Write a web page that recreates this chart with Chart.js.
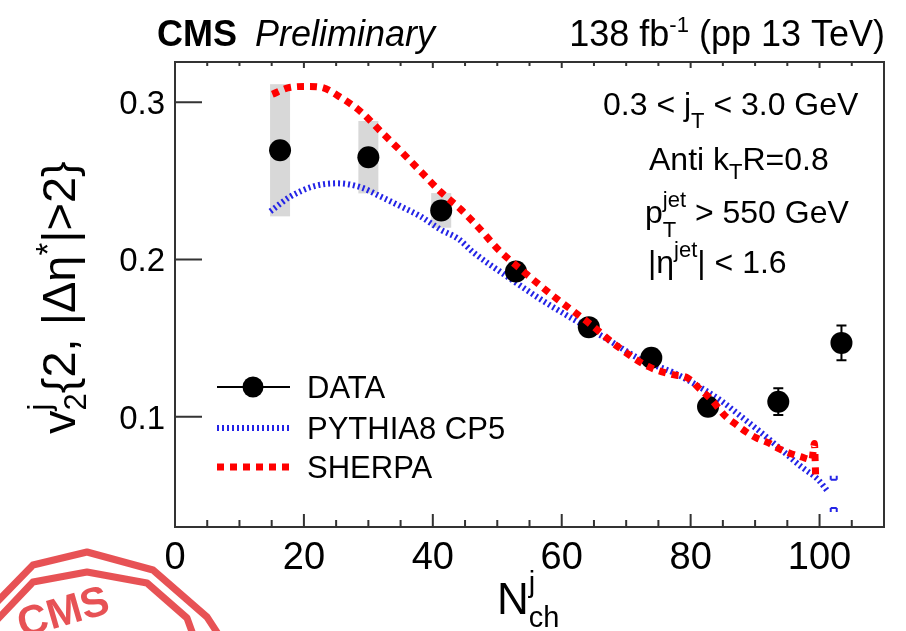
<!DOCTYPE html>
<html>
<head>
<meta charset="utf-8">
<script src="https://cdn.jsdelivr.net/npm/chart.js@4.4.1/dist/chart.umd.min.js"></script>
<style>
  html, body { margin: 0; padding: 0; background: #fff; }
  #wrap { position: relative; width: 906px; height: 631px; }
</style>
</head>
<body>
<div id="wrap"><canvas id="chart" width="906" height="631"></canvas></div>
<script>
// measured points
const nch = [16.3, 30.0, 41.3, 52.9, 64.2, 73.9, 82.7, 93.6, 103.4];
const v2 = [0.2694, 0.265, 0.2312, 0.1924, 0.157, 0.1376, 0.1064, 0.1096, 0.147];
const statErr = [0.003, 0.003, 0.003, 0.003, 0.003, 0.004, 0.005, 0.0085, 0.011];
const sysErr = [0.042, 0.023, 0.011, 0, 0, 0, 0, 0, 0];

// PYTHIA8 CP5 curve
const pythiaX = [14.8, 17.9, 21.5, 25.2, 28.8, 31.9, 35.0, 38.1, 41.2, 44.0, 46.3, 51.6, 56.8, 61.9, 67.2, 72.3, 77.4, 81.6, 84.8, 87.9, 91.0, 94.1, 97.2, 99.8, 101.4];
const pythiaY = [0.2306, 0.240, 0.2465, 0.2484, 0.2459, 0.240, 0.2338, 0.2274, 0.219, 0.213, 0.2045, 0.189, 0.1745, 0.1618, 0.149, 0.1363, 0.128, 0.1185, 0.110, 0.100, 0.0898, 0.079, 0.0682, 0.060, 0.052];
// last PYTHIA bin error (x, y, err)
const pythiaLast = [102.2, 0.051, 0.009];

// SHERPA curve
const sherpaX = [15.1, 17.5, 20.5, 22.6, 25.7, 28.8, 31.9, 35.0, 38.1, 41.2, 44.3, 47.4, 50.0, 53.7, 58.8, 64.1, 68.7, 73.4, 77.0, 79.6, 81.6, 83.2, 85.5, 87.1, 88.6, 90.2, 92.1, 93.6, 95.3, 97.2, 98.8, 99.2, 99.4];
const sherpaY = [0.305, 0.309, 0.310, 0.3095, 0.303, 0.294, 0.2815, 0.269, 0.256, 0.243, 0.232, 0.219, 0.207, 0.1936, 0.1764, 0.160, 0.1446, 0.132, 0.127, 0.1245, 0.117, 0.111, 0.100, 0.095, 0.0905, 0.0866, 0.0834, 0.080, 0.077, 0.0745, 0.0728, 0.083, 0.062];

const xTicks = [0, 20, 40, 60, 80, 100];
const yTicks = [0.1, 0.2, 0.3];

const FONT = '"Liberation Sans", Arial, Helvetica, sans-serif';
const BLUE = '#2424e6';
const RED = '#ff0000';

function fnt(size, style) {
  return (style || '') + ' ' + size + 'px ' + FONT;
}

// draws text pieces with sub/superscripts, returns width
function drawRich(ctx, x, y, parts, dry) {
  let cx = x;
  for (const p of parts) {
    const list = p.stack ? p.stack : [p];
    let w = 0;
    for (const q of list) {
      ctx.font = fnt(q.s, q.st);
      if (!dry) ctx.fillText(q.t, cx, y + (q.dy || 0));
      w = Math.max(w, ctx.measureText(q.t).width);
    }
    cx += w;
  }
  return cx - x;
}

const decorations = {
  id: 'decorations',
  beforeDatasetsDraw(chart) {
    const { ctx } = chart;
    const xs = chart.scales.x, ys = chart.scales.y;
    ctx.save();
    // systematic boxes
    ctx.fillStyle = '#d8d8d8';
    nch.forEach((n, i) => {
      if (!sysErr[i]) return;
      const px = xs.getPixelForValue(n);
      const top = ys.getPixelForValue(v2[i] + sysErr[i]);
      const bot = ys.getPixelForValue(v2[i] - sysErr[i]);
      ctx.fillRect(px - 10, top, 20, bot - top);
    });
    // stat error bars
    ctx.strokeStyle = '#000';
    ctx.lineWidth = 2;
    nch.forEach((n, i) => {
      const px = xs.getPixelForValue(n);
      const top = ys.getPixelForValue(v2[i] + statErr[i]);
      const bot = ys.getPixelForValue(v2[i] - statErr[i]);
      ctx.beginPath();
      ctx.moveTo(px, top); ctx.lineTo(px, bot);
      ctx.moveTo(px - 5, top); ctx.lineTo(px + 5, top);
      ctx.moveTo(px - 5, bot); ctx.lineTo(px + 5, bot);
      ctx.stroke();
    });
    // pythia last bin caps
    ctx.strokeStyle = BLUE;
    const bx = xs.getPixelForValue(pythiaLast[0]);
    const bt = ys.getPixelForValue(pythiaLast[1] + pythiaLast[2]);
    const bb = ys.getPixelForValue(pythiaLast[1] - pythiaLast[2]);
    ctx.beginPath();
    ctx.moveTo(bx - 3, bt); ctx.lineTo(bx + 3, bt);
    ctx.moveTo(bx - 3, bt - 4); ctx.lineTo(bx - 3, bt);
    ctx.moveTo(bx + 3, bt - 4); ctx.lineTo(bx + 3, bt);
    ctx.moveTo(bx - 3, bb); ctx.lineTo(bx + 3, bb);
    ctx.moveTo(bx - 3, bb + 4); ctx.lineTo(bx - 3, bb);
    ctx.moveTo(bx + 3, bb + 4); ctx.lineTo(bx + 3, bb);
    ctx.stroke();
    ctx.restore();
  },
  afterDraw(chart) {
    const { ctx, chartArea: a } = chart;
    const xs = chart.scales.x, ys = chart.scales.y;
    ctx.save();

    // frame and inward ticks
    ctx.strokeStyle = '#333';
    ctx.lineWidth = 2;
    ctx.strokeRect(a.left, a.top, a.right - a.left, a.bottom - a.top);
    ctx.beginPath();
    for (let v = xs.min; v <= xs.max; v += 5) {
      const px = xs.getPixelForValue(v);
      const major = xTicks.includes(v);
      ctx.moveTo(px, a.bottom); ctx.lineTo(px, a.bottom - (major ? 13 : 7));
      ctx.moveTo(px, a.top); ctx.lineTo(px, a.top + (major ? 6 : 4));
    }
    yTicks.forEach(v => {
      const py = ys.getPixelForValue(v);
      ctx.moveTo(a.left, py); ctx.lineTo(a.left + 27, py);
    });
    ctx.stroke();

    // tick labels
    ctx.fillStyle = '#000';
    ctx.textBaseline = 'alphabetic';
    ctx.font = fnt(38);
    ctx.textAlign = 'center';
    xTicks.forEach(v => ctx.fillText(String(v), xs.getPixelForValue(v), 569));
    ctx.font = fnt(33);
    ctx.textAlign = 'right';
    yTicks.forEach(v => ctx.fillText(v.toFixed(1), a.left - 10, ys.getPixelForValue(v) + 12));
    ctx.textAlign = 'left';

    // header
    ctx.font = fnt(36, 'bold');
    ctx.fillText('CMS', 157, 46);
    ctx.font = fnt(36, 'italic');
    ctx.fillText('Preliminary', 255, 46);
    const lumi = [{ t: '138 fb', s: 36 }, { t: '-1', s: 22, dy: -14 }, { t: ' (pp 13 TeV)', s: 36 }];
    const lw = drawRich(ctx, 0, 0, lumi, true);
    drawRich(ctx, 885 - lw, 46, lumi);

    // axis titles
    ctx.save();
    ctx.translate(75, 434);
    ctx.rotate(-Math.PI / 2);
    drawRich(ctx, 0, 0, [
      { t: 'v', s: 47 },
      { stack: [{ t: 'j', s: 31, dy: -25 }, { t: '2', s: 31, dy: 11 }] },
      { t: '{2, |\u0394\u03b7', s: 47 },
      { t: '*', s: 33, dy: -16 },
      { t: '|>2}', s: 47 }
    ]);
    ctx.restore();
    drawRich(ctx, 497, 614, [
      { t: 'N', s: 44 },
      { stack: [{ t: 'j', s: 29, dy: -22 }, { t: 'ch', s: 29, dy: 13 }] }
    ]);

    // selection text
    drawRich(ctx, 603, 115, [{ t: '0.3 < j', s: 32 }, { t: 'T', s: 22, dy: 13 }, { t: ' < 3.0 GeV', s: 32 }]);
    drawRich(ctx, 649, 170, [{ t: 'Anti k', s: 32 }, { t: 'T', s: 22, dy: 9 }, { t: 'R=0.8', s: 32 }]);
    drawRich(ctx, 645, 223, [{ t: 'p', s: 32 }, { stack: [{ t: 'jet', s: 22, dy: -16 }, { t: 'T', s: 22, dy: 14 }] }, { t: ' > 550 GeV', s: 32 }]);
    drawRich(ctx, 648, 273, [{ t: '|\u03b7', s: 32 }, { t: 'jet', s: 22, dy: -16 }, { t: '| < 1.6', s: 32 }]);

    // legend
    ctx.lineCap = 'butt';
    ctx.strokeStyle = '#000';
    ctx.lineWidth = 2;
    ctx.beginPath(); ctx.moveTo(217, 387); ctx.lineTo(290, 387); ctx.stroke();
    ctx.fillStyle = '#000';
    ctx.beginPath(); ctx.arc(253, 387, 10.5, 0, Math.PI * 2); ctx.fill();
    ctx.strokeStyle = BLUE; ctx.lineWidth = 6; ctx.setLineDash([2, 3]);
    ctx.beginPath(); ctx.moveTo(217, 428); ctx.lineTo(290, 428); ctx.stroke();
    ctx.strokeStyle = RED; ctx.lineWidth = 7; ctx.setLineDash([7, 6]);
    ctx.beginPath(); ctx.moveTo(217, 467); ctx.lineTo(290, 467); ctx.stroke();
    ctx.setLineDash([]);
    ctx.font = fnt(31);
    ctx.fillText('DATA', 307, 398);
    ctx.fillText('PYTHIA8 CP5', 307, 439);
    ctx.fillText('SHERPA', 307, 478);

    // stamp
    ctx.strokeStyle = 'rgba(228,58,62,0.88)';
    ctx.lineWidth = 7;
    ctx.lineJoin = 'round';
    ctx.beginPath();
    ctx.moveTo(-5, 604); ctx.lineTo(33, 565); ctx.lineTo(87, 552); ctx.lineTo(153, 570); ctx.lineTo(207, 617); ctx.lineTo(222, 640);
    ctx.stroke();
    ctx.beginPath();
    ctx.moveTo(-5, 622); ctx.lineTo(33, 582); ctx.lineTo(87, 572); ctx.lineTo(147, 583); ctx.lineTo(187, 618); ctx.lineTo(195, 640);
    ctx.stroke();
    ctx.save();
    ctx.translate(22, 638);
    ctx.rotate(-0.28);
    ctx.fillStyle = 'rgba(228,58,62,0.88)';
    ctx.font = fnt(42, 'bold');
    ctx.fillText('CMS', 0, 0);
    ctx.restore();

    ctx.restore();
  }
};

const pts = (xs, ys) => xs.map((x, i) => ({ x: x, y: ys[i] }));

new Chart(document.getElementById('chart'), {
  type: 'scatter',
  data: {
    datasets: [
      {
        label: 'SHERPA',
        data: pts(sherpaX, sherpaY),
        showLine: true,
        borderColor: RED,
        borderWidth: 7,
        borderDash: [7, 6],
        pointRadius: 0,
        cubicInterpolationMode: 'monotone',
        order: 0
      },
      {
        label: 'DATA',
        data: pts(nch, v2),
        showLine: false,
        pointRadius: 11,
        pointBackgroundColor: '#000',
        pointBorderWidth: 0,
        order: 1
      },
      {
        label: 'PYTHIA8 CP5',
        data: pts(pythiaX, pythiaY),
        showLine: true,
        borderColor: BLUE,
        borderWidth: 6,
        borderDash: [2, 3],
        pointRadius: 0,
        cubicInterpolationMode: 'monotone',
        order: 2
      }
    ]
  },
  options: {
    responsive: false,
    animation: false,
    layout: { padding: { left: 175, right: 22, top: 62, bottom: 104 } },
    scales: {
      x: { type: 'linear', min: 0, max: 110, display: false },
      y: { type: 'linear', min: 0.03, max: 0.3255, display: false }
    },
    plugins: { legend: { display: false }, tooltip: { enabled: false } }
  },
  plugins: [decorations]
});
</script>
</body>
</html>
